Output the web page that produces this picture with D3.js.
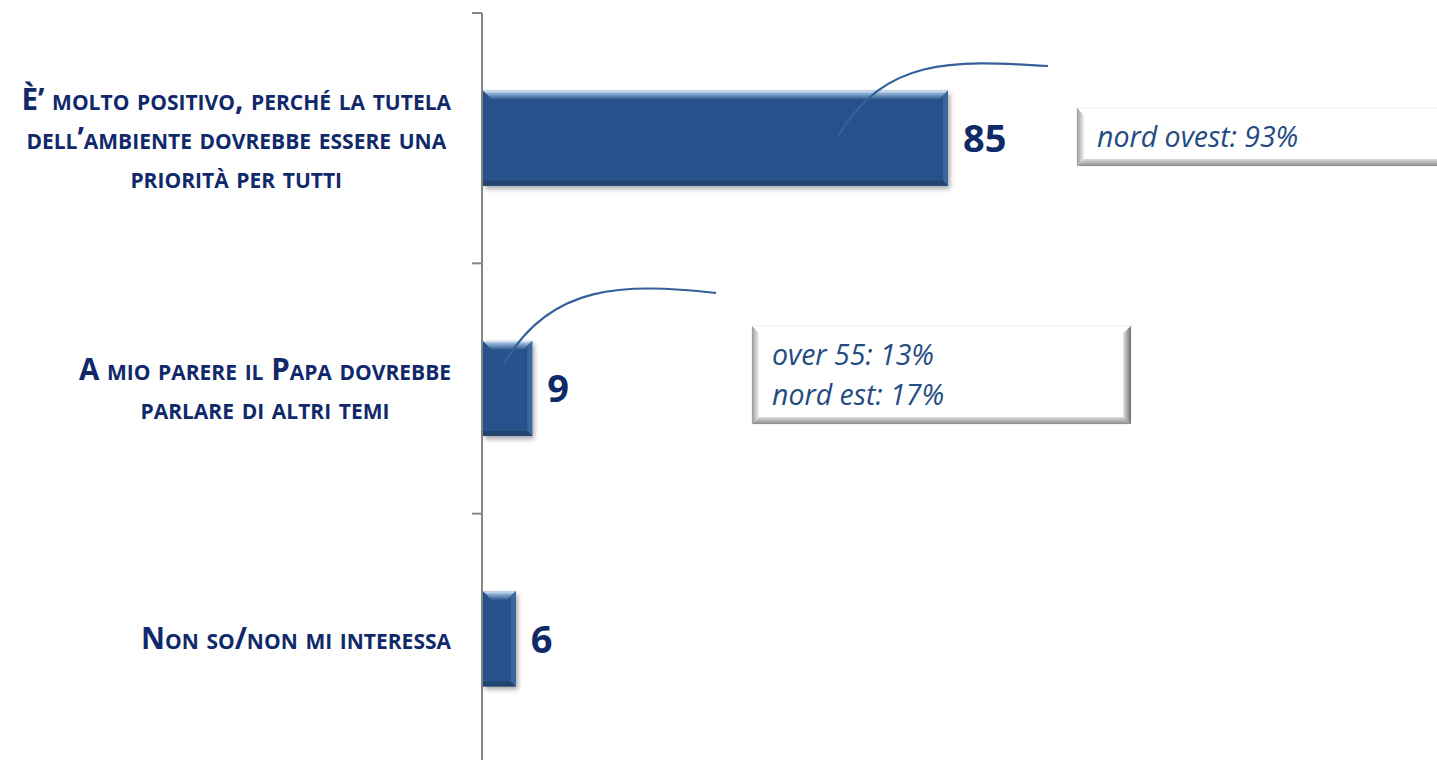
<!DOCTYPE html>
<html>
<head>
<meta charset="utf-8">
<script src="https://cdn.jsdelivr.net/npm/d3@7"></script>
<style>
  body { margin: 0; background: #fff; }
  svg { display: block; }
</style>
</head>
<body>
<div id="chart"></div>
<script>
const W = 1437
const H = 760

// data
const categories = [
  ['È’ molto positivo, perché la tutela', 'dell’ambiente dovrebbe essere una', 'priorità per tutti'],
  ['A mio parere il Papa dovrebbe', 'parlare di altri temi'],
  ['Non so/non mi interessa']
]
const values = [85, 9, 6]
const notes = [['nord ovest: 93%'], ['over 55: 13%', 'nord est: 17%'], []]

const axisX = 482
const labelRight = 451

const svg = d3.select('#chart').append('svg')
  .attr('width', W)
  .attr('height', H)

const defs = svg.append('defs')

const shadow = defs.append('filter').attr('id', 'shadow')
  .attr('x', '-10%').attr('y', '-10%').attr('width', '130%').attr('height', '140%')
shadow.append('feDropShadow')
  .attr('dx', 2).attr('dy', 3).attr('stdDeviation', 2.5)
  .attr('flood-color', '#000').attr('flood-opacity', 0.35)

const topGrad = defs.append('linearGradient').attr('id', 'topGrad')
  .attr('x1', 0).attr('y1', 0).attr('x2', 0).attr('y2', 1)
topGrad.append('stop').attr('offset', '0%').attr('stop-color', '#e4eef8')
topGrad.append('stop').attr('offset', '30%').attr('stop-color', '#8fb0d8')
topGrad.append('stop').attr('offset', '100%').attr('stop-color', '#2b5489')

const boxLeft = defs.append('linearGradient').attr('id', 'boxLeft')
  .attr('x1', 0).attr('y1', 0).attr('x2', 1).attr('y2', 0)
boxLeft.append('stop').attr('offset', '0%').attr('stop-color', '#9a9a9a')
boxLeft.append('stop').attr('offset', '100%').attr('stop-color', '#f4f4f4')

const boxBottom = defs.append('linearGradient').attr('id', 'boxBottom')
  .attr('x1', 0).attr('y1', 0).attr('x2', 0).attr('y2', 1)
boxBottom.append('stop').attr('offset', '0%').attr('stop-color', '#dcdcdc')
boxBottom.append('stop').attr('offset', '100%').attr('stop-color', '#8c8c8c')

const boxRight = defs.append('linearGradient').attr('id', 'boxRight')
  .attr('x1', 0).attr('y1', 0).attr('x2', 1).attr('y2', 0)
boxRight.append('stop').attr('offset', '0%').attr('stop-color', '#e6e6e6')
boxRight.append('stop').attr('offset', '100%').attr('stop-color', '#6f6f6f')

const x = d3.scaleLinear()
  .domain([0, 85])
  .range([axisX + 1, 948])

const y = d3.scaleBand()
  .domain(d3.range(values.length))
  .range([13, 764])
  .paddingInner(0.62)
  .paddingOuter(0.31)

// axis line + ticks at band boundaries
svg.append('line')
  .attr('x1', axisX).attr('x2', axisX)
  .attr('y1', 13).attr('y2', H)
  .attr('stroke', '#868686').attr('stroke-width', 2)

const step = y.step()
const tickYs = d3.range(values.length + 1).map(i => 13 + i * step)
svg.selectAll('.tick')
  .data(tickYs)
  .enter()
  .append('line')
  .attr('x1', axisX - 10).attr('x2', axisX)
  .attr('y1', d => d).attr('y2', d => d)
  .attr('stroke', '#868686').attr('stroke-width', 2)

// bars
const bars = svg.selectAll('.bar')
  .data(values)
  .enter()
  .append('g')
  .attr('class', 'bar')

bars.append('rect')
  .attr('x', x(0))
  .attr('y', (d, i) => y(i))
  .attr('width', d => x(d) - x(0))
  .attr('height', y.bandwidth())
  .attr('fill', '#28518a')
  .attr('filter', 'url(#shadow)')

// top bevel
bars.append('path')
  .attr('d', (d, i) => {
    const x0 = x(0), x1 = x(d), y0 = y(i), b = 9
    return `M${x0},${y0}H${x1}L${x1 - b},${y0 + b}H${x0 + b}Z`
  })
  .attr('fill', 'url(#topGrad)')

// right bevel
bars.append('path')
  .attr('d', (d, i) => {
    const x1 = x(d), y0 = y(i), y1 = y(i) + y.bandwidth(), b = 5
    return `M${x1},${y0}L${x1},${y1}L${x1 - b},${y1 - b}L${x1 - b},${y0 + b}Z`
  })
  .attr('fill', '#3c679c')

// bottom bevel
bars.append('path')
  .attr('d', (d, i) => {
    const x0 = x(0), x1 = x(d), y1 = y(i) + y.bandwidth(), b = 5
    return `M${x0},${y1}H${x1}L${x1 - b},${y1 - b}H${x0}Z`
  })
  .attr('fill', '#22446f')

// value labels
svg.selectAll('.val')
  .data(values)
  .enter()
  .append('text')
  .attr('x', d => x(d) + 15)
  .attr('y', (d, i) => y(i) + y.bandwidth() / 2)
  .attr('dy', '0.36em')
  .attr('font-family', 'Open Sans, sans-serif')
  .attr('font-weight', 700)
  .attr('font-size', 38)
  .attr('fill', '#0f2a66')
  .text(d => d)

// category labels, small caps, block centred on its widest line
const lineH = 39
categories.forEach((lines, i) => {
  const g = svg.append('g')
  const cy = y(i) + y.bandwidth() / 2
  const texts = g.selectAll('text')
    .data(lines)
    .enter()
    .append('text')
    .attr('y', (d, j) => cy + (j - (lines.length - 1) / 2) * lineH)
    .attr('dy', '0.36em')
    .attr('text-anchor', 'middle')
    .attr('font-family', 'Open Sans, sans-serif')
    .attr('font-weight', 700)
    .attr('font-size', 29.5)
    .style('font-variant', 'small-caps')
    .attr('fill', '#10296a')
    .text(d => d)
  let maxW = 0
  texts.each(function() { maxW = Math.max(maxW, this.getComputedTextLength()) })
  texts.attr('x', labelRight - maxW / 2)
})

// connector curves from bars to the callouts
const connectors = [
  { from: [838, 136], c1: [885, 58], c2: [950, 60], to: [1048, 66] },
  { from: [504, 364], c1: [550, 283], c2: [625, 283], to: [716, 293] }
]
svg.selectAll('.conn')
  .data(connectors)
  .enter()
  .append('path')
  .attr('d', d => `M${d.from}C${d.c1} ${d.c2} ${d.to}`)
  .attr('fill', 'none')
  .attr('stroke', '#35609a')
  .attr('stroke-width', 2.2)

// callout boxes
const boxes = [
  { x: 1077, y: 108, w: 380, h: 58, right: false },
  { x: 752, y: 326, w: 379, h: 98, right: true }
]
boxes.forEach((b, i) => {
  const g = svg.append('g')
  const e = 7
  g.append('rect')
    .attr('x', b.x).attr('y', b.y).attr('width', b.w).attr('height', b.h)
    .attr('fill', '#fff')
    .attr('stroke', '#ececec')
  g.append('path')
    .attr('d', `M${b.x},${b.y}L${b.x + e},${b.y + e}V${b.y + b.h - e}L${b.x},${b.y + b.h}Z`)
    .attr('fill', 'url(#boxLeft)')
  g.append('path')
    .attr('d', `M${b.x},${b.y + b.h}L${b.x + e},${b.y + b.h - e}H${b.x + b.w - e}L${b.x + b.w},${b.y + b.h}Z`)
    .attr('fill', 'url(#boxBottom)')
  if (b.right) {
    g.append('path')
      .attr('d', `M${b.x + b.w},${b.y}L${b.x + b.w - e - 1},${b.y + e}V${b.y + b.h - e}L${b.x + b.w},${b.y + b.h}Z`)
      .attr('fill', 'url(#boxRight)')
  }
  g.selectAll('text')
    .data(notes[i])
    .enter()
    .append('text')
    .attr('x', b.x + 20)
    .attr('y', (d, j) => b.y + b.h / 2 + (j - (notes[i].length - 1) / 2) * 40)
    .attr('dy', '0.36em')
    .attr('font-family', 'Open Sans, sans-serif')
    .attr('font-style', 'italic')
    .attr('font-size', 28.5)
    .attr('fill', '#244b82')
    .text(d => d)
})
</script>
</body>
</html>
